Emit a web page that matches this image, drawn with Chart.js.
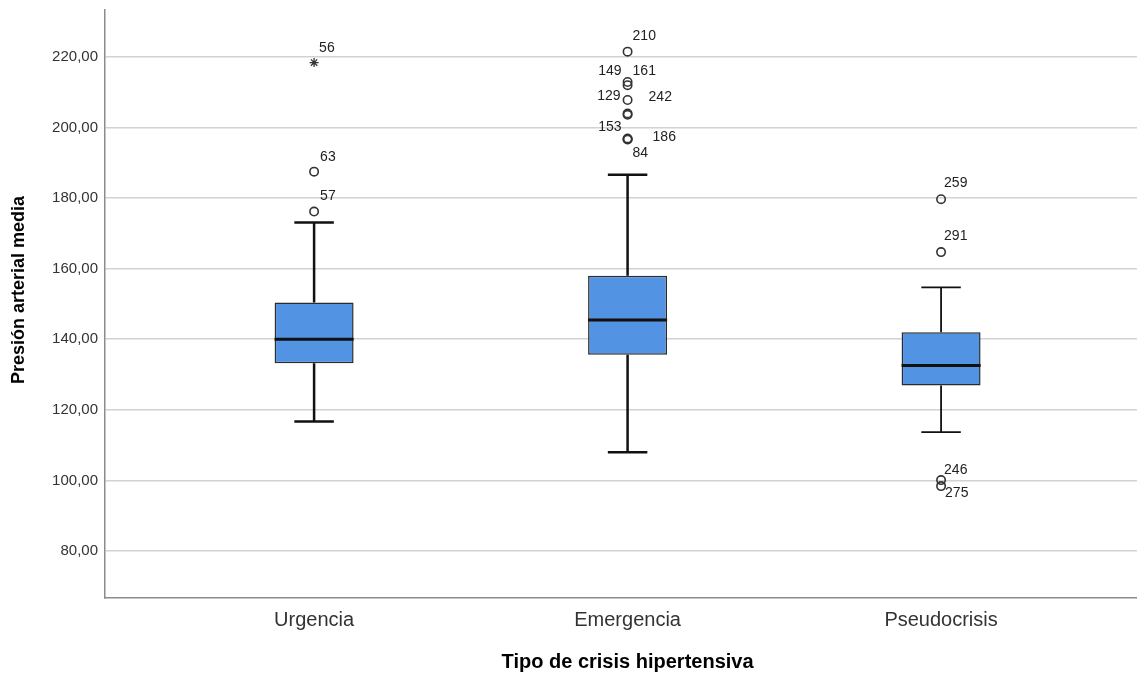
<!DOCTYPE html>
<html>
<head>
<meta charset="utf-8">
<script src="https://cdn.jsdelivr.net/npm/chart.js@4/dist/chart.umd.min.js"></script>
<style>
html,body{margin:0;padding:0;background:#fff;overflow:hidden;}
canvas{display:block;}
</style>
</head>
<body>
<canvas id="c" width="1137" height="674" style="width:1137px;height:674px;"></canvas>
<script>
// ---- data ----
const categories = ['Urgencia', 'Emergencia', 'Pseudocrisis'];
const whiskerLow = [116.7, 108.0, 113.7];
const quartile1 = [133.2, 135.6, 126.9];
const medians = [140.0, 145.5, 132.6];
const quartile3 = [150.4, 158.0, 142.0];
const whiskerHigh = [173.1, 186.6, 154.7];

const outlierGroup = [0, 0, 0, 1, 1, 1, 1, 1, 1, 1, 1, 1, 2, 2, 2, 2];
const outlierValue = [176.2, 187.5, 218.4, 221.5, 212.9, 212.0, 207.8, 204.0, 203.6, 196.9, 196.7, 196.6, 179.7, 164.7, 100.1, 98.4];
const outlierId = ['57', '63', '56', '210', '149', '161', '129', '242', '', '153', '186', '84', '259', '291', '246', '275'];
const outlierExtreme = [false, false, true, false, false, false, false, false, false, false, false, false, false, false, false, false];

const yTicks = [80, 100, 120, 140, 160, 180, 200, 220];
const yTitle = 'Presión arterial media';
const xTitle = 'Tipo de crisis hipertensiva';

// ---- label placement (style) ----
const labelDx = [6, 6, 5, 5, -6, 5, -7, 21, 0, -6, 25, 5, 3, 3, 3, 4];
const labelDy = [-15, -15, -14, -16, -11, -14, -4, -16, 0, -11, -2, 14, -16, -16, -10, 7];
const labelAlign = ['left','left','left','left','right','left','right','left','left','right','left','left','left','left','left','left'];
const whiskerWidth = [2.5, 2.5, 1.8];

const FONT = '"Liberation Sans", Arial, sans-serif';

const boxData = categories.map((c, i) => ({x: i, y: [quartile1[i], quartile3[i]]}));
const circleData = [], starData = [];
outlierValue.forEach((v, i) => {
  const p = {x: outlierGroup[i], y: v};
  (outlierExtreme[i] ? starData : circleData).push(p);
});

// stretch the plot area to the right edge of the canvas
const fullRight = {
  id: 'fullRight',
  afterLayout(chart) {
    const xs = chart.scales.x;
    const r = chart.width;
    xs.right = r;
    xs.width = r - xs.left;
    xs.maxWidth = xs.width;
    xs.configure();
    chart.chartArea.right = r;
    chart.chartArea.width = r - chart.chartArea.left;
  }
};

const boxPlugin = {
  id: 'boxParts',
  afterDatasetsDraw(chart) {
    const ctx = chart.ctx;
    const xs = chart.scales.x, ys = chart.scales.y;
    const meta = chart.getDatasetMeta(0);
    ctx.save();
    categories.forEach((c, i) => {
      const bar = meta.data[i];
      const half = bar.width / 2;
      const cx = xs.getPixelForValue(i);
      const yq1 = ys.getPixelForValue(quartile1[i]);
      const yq3 = ys.getPixelForValue(quartile3[i]);
      const ylo = ys.getPixelForValue(whiskerLow[i]);
      const yhi = ys.getPixelForValue(whiskerHigh[i]);
      const ym = ys.getPixelForValue(medians[i]);
      ctx.strokeStyle = '#111';
      ctx.lineWidth = whiskerWidth[i];
      ctx.lineCap = 'butt';
      ctx.beginPath();
      ctx.moveTo(cx, yq3); ctx.lineTo(cx, yhi);
      ctx.moveTo(cx, yq1); ctx.lineTo(cx, ylo);
      ctx.moveTo(cx - half / 2, yhi); ctx.lineTo(cx + half / 2, yhi);
      ctx.moveTo(cx - half / 2, ylo); ctx.lineTo(cx + half / 2, ylo);
      ctx.stroke();
      ctx.lineWidth = 3;
      ctx.beginPath();
      ctx.moveTo(cx - half, ym); ctx.lineTo(cx + half, ym);
      ctx.stroke();
    });
    // outlier labels
    ctx.fillStyle = '#222';
    ctx.font = '14px ' + FONT;
    ctx.textBaseline = 'middle';
    outlierValue.forEach((v, i) => {
      if (!outlierId[i]) return;
      const px = xs.getPixelForValue(outlierGroup[i]);
      const py = ys.getPixelForValue(v);
      ctx.textAlign = labelAlign[i];
      ctx.fillText(outlierId[i], px + labelDx[i], py + labelDy[i]);
    });
    // x title (centred under the middle category)
    ctx.fillStyle = '#000';
    ctx.font = 'bold 20px ' + FONT;
    ctx.textAlign = 'center';
    ctx.fillText(xTitle, xs.getPixelForValue(1), 662);
    // y title
    ctx.font = 'bold 18px ' + FONT;
    ctx.translate(19, 290);
    ctx.rotate(-Math.PI / 2);
    ctx.fillText(yTitle, 0, 0);
    ctx.restore();
  }
};

const zeroPad = s => { s.paddingTop = 0; s.paddingBottom = 0; s.paddingLeft = 0; s.paddingRight = 0; };

new Chart(document.getElementById('c'), {
  type: 'bar',
  data: {
    datasets: [
      {
        type: 'bar',
        data: boxData,
        backgroundColor: '#5393e3',
        borderColor: '#2b2b2b',
        borderWidth: 1.5,
        borderSkipped: false,
        barPercentage: 0.252,
        categoryPercentage: 1,
        grouped: false
      },
      {
        type: 'scatter',
        data: circleData,
        pointStyle: 'circle',
        pointRadius: 4.2,
        pointBackgroundColor: 'rgba(255,255,255,0)',
        pointBorderColor: '#333',
        pointBorderWidth: 1.6
      },
      {
        type: 'scatter',
        data: starData,
        pointStyle: 'star',
        pointRadius: 4.5,
        pointBorderColor: '#333',
        pointBorderWidth: 1.3
      }
    ]
  },
  options: {
    responsive: false,
    maintainAspectRatio: false,
    animation: false,
    devicePixelRatio: 1,
    layout: {padding: {top: 10, right: 0, bottom: 0, left: 0}},
    plugins: {legend: {display: false}, tooltip: {enabled: false}},
    scales: {
      x: {
        type: 'linear',
        offset: false,
        bounds: 'ticks',
        min: -0.667,
        max: 2.625,
        afterBuildTicks: s => { s.ticks = categories.map((c, i) => ({value: i})); },
        afterDataLimits: s => { s.min = -0.667; s.max = 2.625; },
        afterFit: s => { s.height = 76; zeroPad(s); },
        ticks: {
          callback: v => categories[v],
          font: {family: FONT, size: 20},
          color: '#333',
          padding: 10,
          maxRotation: 0,
          autoSkip: false
        },
        grid: {display: false, drawTicks: false, offset: false},
        border: {display: true, color: '#8c8c8c', width: 1.5},
        title: {display: false}
      },
      y: {
        type: 'linear',
        min: 66.7,
        max: 233.3,
        afterBuildTicks: s => { s.ticks = yTicks.map(v => ({value: v})); },
        afterFit: s => { s.width = 105; zeroPad(s); },
        ticks: {
          callback: v => v.toFixed(2).replace('.', ','),
          font: {family: FONT, size: 15},
          color: '#333',
          padding: 7
        },
        grid: {color: '#d2d2d2', lineWidth: 1.6, drawTicks: false},
        border: {display: true, color: '#8c8c8c', width: 1.5}
      }
    }
  },
  plugins: [fullRight, boxPlugin]
});
</script>
</body>
</html>
